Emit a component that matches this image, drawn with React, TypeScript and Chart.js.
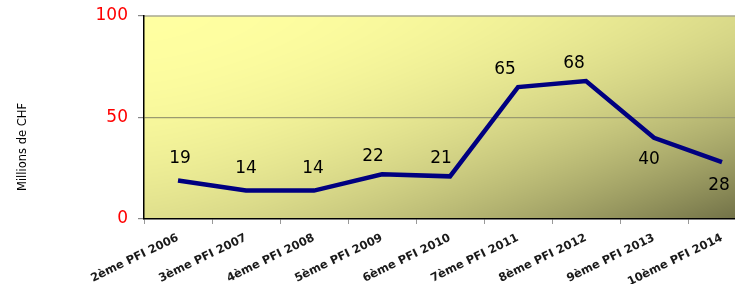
import React, { useEffect, useRef } from "react";
import { Chart, registerables } from "chart.js";

Chart.register(...registerables);

const categories = [
  "2ème PFI 2006",
  "3ème PFI 2007",
  "4ème PFI 2008",
  "5ème PFI 2009",
  "6ème PFI 2010",
  "7ème PFI 2011",
  "8ème PFI 2012",
  "9ème PFI 2013",
  "10ème PFI 2014",
];
const values = [19, 14, 14, 22, 21, 65, 68, 40, 28];
const yTicks = [0, 50, 100];
const yTitle = "Millions de CHF";

// label offsets (style only)
const labelDx = [2, 0, -1, -9, -9, -13, -12, -5, -3];
const labelDy = [-22, -22, -22, -18, -18, -17, -17, 22, 23];

const FONT = "'DejaVu Sans', Verdana, sans-serif";

function makeBackground(w: number, h: number): HTMLCanvasElement {
  const c = document.createElement("canvas");
  c.width = Math.max(1, Math.round(w));
  c.height = Math.max(1, Math.round(h));
  const cx = c.getContext("2d")!;
  const img = cx.createImageData(c.width, c.height);
  const d = img.data;
  for (let y = 0; y < c.height; y++) {
    const v = y / (c.height - 1);
    for (let x = 0; x < c.width; x++) {
      const u = x / (c.width - 1);
      const drop = 40 * u * u + 32 * v * v + 75 * Math.pow(u * v, 1.3);
      const f = Math.max(0, 255 - drop);
      const i = (y * c.width + x) * 4;
      d[i] = f;
      d[i + 1] = f;
      d[i + 2] = f * 0.63;
      d[i + 3] = 255;
    }
  }
  cx.putImageData(img, 0, 0);
  return c;
}

const bgPlugin = {
  id: "bgPlugin",
  beforeDraw(chart: any) {
    const { ctx, chartArea } = chart;
    const { left, top, right, bottom } = chartArea;
    const bg = makeBackground(right - left, bottom - top);
    ctx.drawImage(bg, left, top, right - left, bottom - top);
    ctx.save();
    ctx.strokeStyle = "#a8a890";
    ctx.lineWidth = 1.5;
    ctx.beginPath();
    ctx.moveTo(left, top);
    ctx.lineTo(right, top);
    ctx.stroke();
    ctx.restore();
  },
};

const labelPlugin = {
  id: "labelPlugin",
  afterDatasetsDraw(chart: any) {
    const { ctx } = chart;
    const meta = chart.getDatasetMeta(0);
    ctx.save();
    ctx.font = `17px ${FONT}`;
    ctx.fillStyle = "#000";
    ctx.textAlign = "center";
    ctx.textBaseline = "middle";
    meta.data.forEach((pt: any, i: number) => {
      ctx.fillText(String(values[i]), pt.x + labelDx[i], pt.y + labelDy[i]);
    });
    ctx.restore();
    ctx.save();
    ctx.font = `11.5px ${FONT}`;
    ctx.fillStyle = "#000";
    ctx.textAlign = "center";
    ctx.textBaseline = "middle";
    ctx.translate(23, 147);
    ctx.rotate(-Math.PI / 2);
    ctx.fillText(yTitle, 0, 0);
    ctx.restore();
  },
};

export default function App() {
  const ref = useRef<HTMLCanvasElement | null>(null);
  useEffect(() => {
    if (!ref.current) return;
    const chart = new Chart(ref.current, {
      type: "line",
      data: {
        labels: categories,
        datasets: [
          {
            data: values,
            borderColor: "#000080",
            borderWidth: 4.5,
            pointRadius: 0,
            tension: 0,
            fill: false,
          },
        ],
      },
      options: {
        animation: false,
        responsive: false,
        devicePixelRatio: 1,
        layout: { padding: { left: 0, top: 16, right: 14, bottom: 0 } },
        plugins: {
          legend: { display: false },
          tooltip: { enabled: false },
        },
        scales: {
          x: {
            offset: true,
            grid: {
              offset: true,
              drawOnChartArea: false,
              tickLength: 5,
              tickColor: "#999999",
            },
            border: { color: "#000000", width: 1.5 },
            ticks: {
              minRotation: 26,
              maxRotation: 26,
              autoSkip: false,
              color: "#1a1a1a",
              font: { family: FONT, size: 11.5, weight: "bold" },
              padding: 7,
            },
            afterFit(scale: any) {
              scale.height = 65;
            },
          },
          y: {
            min: 0,
            max: 100,
            afterBuildTicks(scale: any) {
              scale.ticks = yTicks.map((v) => ({ value: v }));
            },
            grid: {
              color: (c: any) =>
                c.tick && c.tick.value === 50 ? "#9a9a70" : "rgba(0,0,0,0)",
              lineWidth: 1.2,
              tickLength: 6,
              tickColor: "#888888",
            },
            border: { color: "#000000", width: 1.5 },
            ticks: {
              color: "#ff0000",
              font: { family: FONT, size: 17, lineHeight: 0.6 },
              padding: 10,
            },
            afterFit(scale: any) {
              scale.width = 144;
            },
          },
        },
      },
      plugins: [bgPlugin, labelPlugin],
    });
    return () => chart.destroy();
  }, []);
  return (
    <div
      style={{
        position: "fixed",
        left: 0,
        top: 0,
        width: 735,
        height: 284,
        overflow: "hidden",
        background: "#fff",
      }}
    >
      <canvas ref={ref} width={770} height={284} style={{ display: "block" }} />
    </div>
  );
}
